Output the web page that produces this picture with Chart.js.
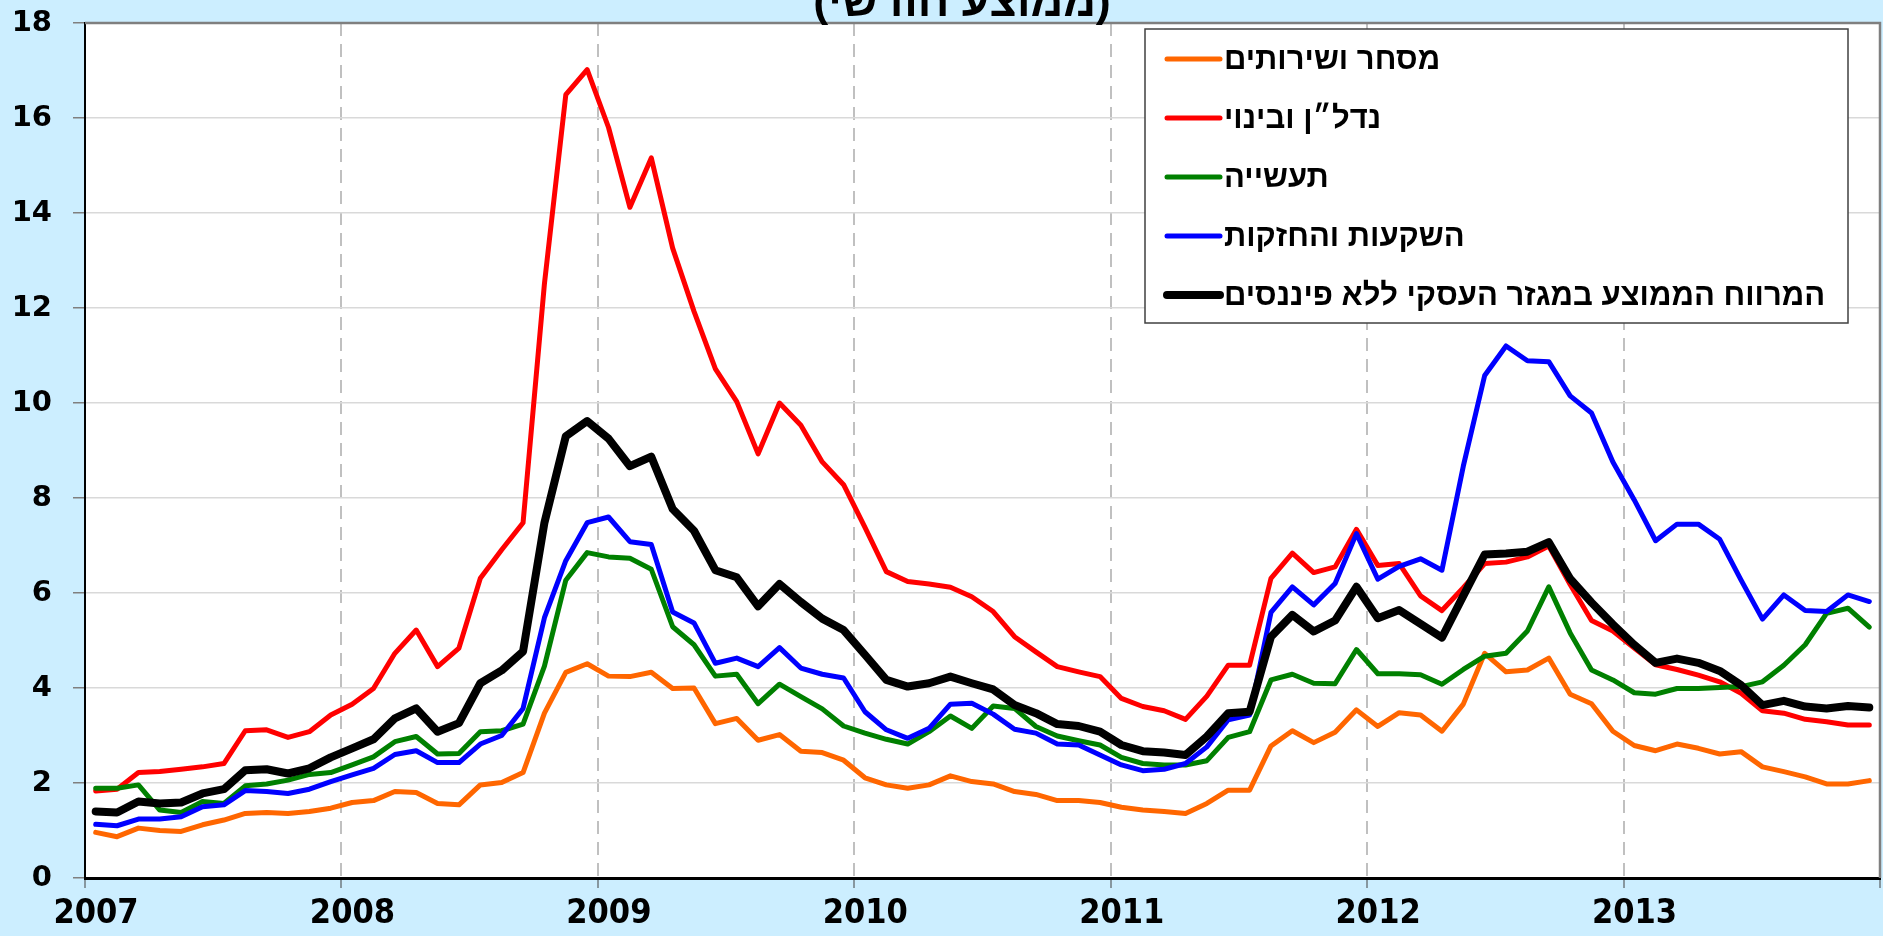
<!DOCTYPE html>
<html lang="he">
<head>
<meta charset="utf-8">
<title>מרווחים לפי ענף</title>
<script src="https://cdn.jsdelivr.net/npm/chart.js@4.4.1/dist/chart.umd.min.js"></script>
<style>
  html, body { margin: 0; padding: 0; background: #cceeff; }
  .wrap { position: relative; width: 1883px; height: 936px; }
</style>
</head>
<body>
<div class="wrap"><canvas id="spreadChart"></canvas></div>
<script>
(function () {
  'use strict';

  // === Data (monthly, Jan 2007 - Dec 2013) ===
  const yearLabels = ['2007', '2008', '2009', '2010', '2011', '2012', '2013'];
  const titleText = '(ממוצע חודשי)';
  const seriesNames = [
    'מסחר ושירותים',
    'נדל״ן ובינוי',
    'תעשייה',
    'השקעות והחזקות',
    'המרווח הממוצע במגזר העסקי ללא פיננסים'
  ];

  const trade = [
    0.96, 0.87, 1.05, 1.00, 0.98, 1.12, 1.22, 1.36, 1.38, 1.36, 1.40, 1.47,
    1.59, 1.63, 1.82, 1.80, 1.57, 1.54, 1.96, 2.01, 2.22, 3.47, 4.33, 4.51,
    4.25, 4.24, 4.33, 3.99, 4.00, 3.25, 3.36, 2.90, 3.02, 2.67, 2.64, 2.48,
    2.11, 1.96, 1.89, 1.96, 2.15, 2.03, 1.98, 1.82, 1.76, 1.63, 1.63, 1.59,
    1.49, 1.43, 1.40, 1.36, 1.57, 1.85, 1.85, 2.78, 3.10, 2.85, 3.07, 3.54,
    3.19, 3.48, 3.43, 3.09, 3.66, 4.73, 4.34, 4.38, 4.63, 3.87, 3.67, 3.09,
    2.79, 2.68, 2.82, 2.73, 2.61, 2.66, 2.34, 2.24, 2.13, 1.98, 1.98, 2.05
  ];
  const realEstate = [
    1.83, 1.87, 2.22, 2.24, 2.29, 2.34, 2.41, 3.10, 3.12, 2.96, 3.08, 3.43,
    3.66, 3.99, 4.73, 5.22, 4.45, 4.84, 6.31, 6.91, 7.48, 12.51, 16.49, 17.02,
    15.80, 14.12, 15.16, 13.26, 11.93, 10.72, 10.03, 8.93, 10.00, 9.53, 8.76, 8.28,
    7.38, 6.45, 6.24, 6.19, 6.12, 5.92, 5.61, 5.08, 4.76, 4.45, 4.34, 4.24,
    3.78, 3.61, 3.52, 3.34, 3.83, 4.48, 4.48, 6.31, 6.84, 6.43, 6.55, 7.34,
    6.58, 6.62, 5.94, 5.63, 6.11, 6.62, 6.65, 6.76, 6.99, 6.18, 5.42, 5.20,
    4.84, 4.49, 4.39, 4.27, 4.13, 3.89, 3.52, 3.47, 3.34, 3.29, 3.22, 3.22
  ];
  const industry = [
    1.89, 1.89, 1.96, 1.43, 1.38, 1.61, 1.57, 1.94, 1.98, 2.06, 2.18, 2.22,
    2.38, 2.55, 2.87, 2.98, 2.61, 2.62, 3.08, 3.10, 3.24, 4.46, 6.27, 6.85,
    6.76, 6.73, 6.50, 5.29, 4.91, 4.25, 4.29, 3.67, 4.08, 3.82, 3.56, 3.20,
    3.05, 2.92, 2.82, 3.08, 3.41, 3.15, 3.62, 3.57, 3.19, 2.99, 2.89, 2.80,
    2.54, 2.41, 2.38, 2.38, 2.47, 2.96, 3.08, 4.17, 4.29, 4.10, 4.09, 4.81,
    4.30, 4.30, 4.28, 4.08, 4.39, 4.67, 4.73, 5.20, 6.13, 5.16, 4.38, 4.17,
    3.90, 3.87, 3.99, 3.99, 4.01, 4.03, 4.13, 4.48, 4.91, 5.57, 5.68, 5.28
  ];
  const holdings = [
    1.13, 1.10, 1.24, 1.24, 1.29, 1.50, 1.54, 1.84, 1.82, 1.78, 1.87, 2.03,
    2.17, 2.31, 2.60, 2.68, 2.43, 2.43, 2.82, 3.00, 3.57, 5.48, 6.68, 7.48,
    7.60, 7.08, 7.02, 5.60, 5.37, 4.52, 4.63, 4.45, 4.85, 4.42, 4.29, 4.21,
    3.50, 3.12, 2.94, 3.15, 3.66, 3.68, 3.45, 3.13, 3.05, 2.82, 2.80, 2.59,
    2.38, 2.26, 2.29, 2.41, 2.76, 3.33, 3.43, 5.59, 6.13, 5.75, 6.20, 7.25,
    6.29, 6.56, 6.72, 6.48, 8.67, 10.58, 11.20, 10.89, 10.87, 10.15, 9.79, 8.76,
    7.96, 7.10, 7.45, 7.45, 7.13, 6.27, 5.45, 5.96, 5.63, 5.61, 5.96, 5.82
  ];
  const average = [
    1.40, 1.38, 1.61, 1.57, 1.59, 1.78, 1.87, 2.27, 2.29, 2.20, 2.31, 2.54,
    2.73, 2.92, 3.36, 3.57, 3.08, 3.26, 4.10, 4.37, 4.77, 7.48, 9.30, 9.62,
    9.25, 8.67, 8.87, 7.77, 7.31, 6.48, 6.33, 5.72, 6.19, 5.81, 5.46, 5.22,
    4.70, 4.17, 4.03, 4.10, 4.24, 4.10, 3.97, 3.64, 3.47, 3.24, 3.20, 3.08,
    2.80, 2.67, 2.64, 2.59, 2.98, 3.47, 3.50, 5.08, 5.54, 5.19, 5.42, 6.13,
    5.47, 5.64, 5.35, 5.06, 5.94, 6.81, 6.83, 6.87, 7.07, 6.30, 5.80, 5.34,
    4.91, 4.53, 4.62, 4.53, 4.36, 4.06, 3.64, 3.73, 3.61, 3.57, 3.62, 3.59
  ];

  const seriesValues = [trade, realEstate, industry, holdings, average];
  const seriesColors = ['#ff6600', '#ff0000', '#008000', '#0000ff', '#000000'];
  const seriesWidths = [5, 5, 5, 5, 8];

  const BG = '#cceeff';
  const HEB_FONT = '"Liberation Sans", "DejaVu Sans", sans-serif';

  // points sit in the middle of each month on a linear month axis
  const toPoints = (values) => values.map((v, i) => ({ x: i + 0.5, y: v }));

  // === Background, plot frame ===
  const frame = {
    id: 'frame',
    beforeDraw(chart) {
      const { ctx, chartArea: a } = chart;
      ctx.save();
      ctx.fillStyle = BG;
      ctx.fillRect(0, 0, chart.width, chart.height);
      ctx.fillStyle = '#ffffff';
      ctx.fillRect(a.left, a.top, a.right - a.left, a.bottom - a.top);
      ctx.restore();
    },
    beforeDatasetsDraw(chart) {
      const { ctx, chartArea: a } = chart;
      ctx.save();
      ctx.strokeStyle = '#7f7f7f';
      ctx.lineWidth = 2.5;
      ctx.beginPath();
      ctx.moveTo(a.left, a.top);
      ctx.lineTo(a.right, a.top);
      ctx.lineTo(a.right, a.bottom);
      ctx.stroke();
      ctx.restore();
    }
  };

  // === Boxed legend inside the plot (top right) ===
  const boxedLegend = {
    id: 'boxedLegend',
    afterDatasetsDraw(chart) {
      const { ctx, chartArea: a } = chart;
      const w = 703, h = 294;
      const x = a.right - 32 - w;
      const y = a.top + 6;
      ctx.save();
      ctx.fillStyle = '#ffffff';
      ctx.fillRect(x, y, w, h);
      ctx.strokeStyle = '#404040';
      ctx.lineWidth = 1.5;
      ctx.strokeRect(x, y, w, h);

      ctx.font = 'bold 31px ' + HEB_FONT;
      ctx.textBaseline = 'middle';
      ctx.textAlign = 'left';
      ctx.direction = 'rtl';
      ctx.lineCap = 'round';
      chart.data.datasets.forEach((ds, i) => {
        const rowY = y + 30 + i * 59;
        ctx.strokeStyle = ds.borderColor;
        ctx.lineWidth = ds.borderWidth;
        ctx.beginPath();
        ctx.moveTo(x + 22, rowY);
        ctx.lineTo(x + 75, rowY);
        ctx.stroke();
        ctx.fillStyle = '#000000';
        ctx.fillText(ds.label, x + 79, rowY + 1);
      });
      ctx.restore();
    }
  };

  // === Title, second line only (the first is cut off by the frame) ===
  const cutTitle = {
    id: 'cutTitle',
    afterDraw(chart) {
      const { ctx } = chart;
      ctx.save();
      ctx.font = 'bold 45px ' + HEB_FONT;
      ctx.fillStyle = '#000000';
      ctx.textAlign = 'center';
      ctx.textBaseline = 'alphabetic';
      ctx.direction = 'rtl';
      ctx.fillText(titleText, 962, 16);
      ctx.restore();
    }
  };

  const ctx = document.getElementById('spreadChart');

  new Chart(ctx, {
    type: 'line',
    data: {
      datasets: seriesNames.map((name, i) => ({
        label: name,
        data: toPoints(seriesValues[i]),
        borderColor: seriesColors[i],
        backgroundColor: seriesColors[i],
        borderWidth: seriesWidths[i],
        order: seriesNames.length - i,
        fill: false
      }))
    },
    options: {
      responsive: true,
      maintainAspectRatio: false,
      animation: false,
      layout: { padding: { top: 23, right: 3, left: 0, bottom: 0 } },
      elements: {
        point: { radius: 0, hoverRadius: 0 },
        line: { tension: 0, borderCapStyle: 'round', borderJoinStyle: 'round' }
      },
      plugins: {
        legend: { display: false },
        title: { display: false },
        tooltip: { enabled: false }
      },
      scales: {
        x: {
          type: 'linear',
          min: 0,
          max: yearLabels.length * 12,
          afterFit: (scale) => {
            scale.height = 58;
            scale.paddingLeft = 0;
            scale.paddingRight = 0;
          },
          ticks: {
            stepSize: 12,
            autoSkip: false,
            maxRotation: 0,
            padding: 6,
            labelOffset: 11,
            color: '#000000',
            font: { family: '"Liberation Sans Narrow", "DejaVu Sans Condensed", sans-serif', size: 34, weight: 'bold' },
            callback: (v) => yearLabels[v / 12] || ''
          },
          grid: {
            color: '#c0c0c0',
            lineWidth: 2,
            tickLength: 10,
            tickColor: '#404040',
            tickWidth: 1
          },
          border: { color: '#000000', width: 3, dash: [13, 8] }
        },
        y: {
          min: 0,
          max: 18,
          afterFit: (scale) => {
            scale.width = 85;
            scale.paddingTop = 0;
            scale.paddingBottom = 0;
          },
          ticks: {
            stepSize: 2,
            padding: 21,
            color: '#000000',
            font: { family: '"DejaVu Sans", Verdana, sans-serif', size: 29, weight: 'bold' }
          },
          grid: {
            color: '#d9d9d9',
            lineWidth: 1.5,
            tickLength: 12,
            tickColor: '#7f7f7f',
            tickWidth: 1.5
          },
          border: { color: '#000000', width: 2 }
        }
      }
    },
    plugins: [frame, boxedLegend, cutTitle]
  });
})();
</script>
</body>
</html>
